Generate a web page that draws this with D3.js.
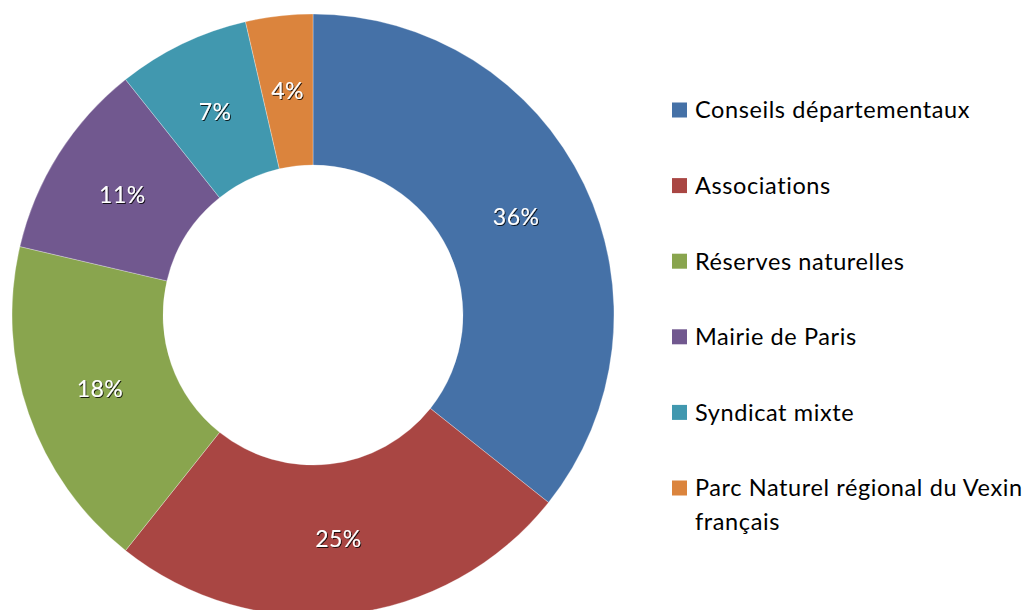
<!DOCTYPE html>
<html>
<head>
<meta charset="utf-8">
<script src="https://cdn.jsdelivr.net/npm/d3@7"></script>
<style>
  body { margin: 0; background: #fff; }
  text { font-family: Lato, "Open Sans", sans-serif; }
</style>
</head>
<body>
<div id="chart"></div>
<script>
const categories = [
    "Conseils départementaux",
    "Associations",
    "Réserves naturelles",
    "Mairie de Paris",
    "Syndicat mixte",
    "Parc Naturel régional du Vexin français"
];
const values = [35.7, 25.0, 17.95, 10.65, 7.1, 3.6];
const colors = ["#4571a7", "#a94643", "#89a54e", "#71588f", "#4198af", "#db843d"];
// legend lines (long label wraps in two)
const legendLines = [
    ["Conseils départementaux"],
    ["Associations"],
    ["Réserves naturelles"],
    ["Mairie de Paris"],
    ["Syndicat mixte"],
    ["Parc Naturel régional du Vexin", "français"]
];

const width = 1031, height = 610;
const cx = 313, cy = 315;
const outerR = 301, innerR = 150;

const svg = d3.select("#chart")
    .append("svg")
    .attr("width", width)
    .attr("height", height);

const defs = svg.append("defs");
defs.append("filter")
    .attr("id", "shadow")
    .attr("x", "-20%").attr("y", "-20%")
    .attr("width", "140%").attr("height", "140%")
    .append("feDropShadow")
    .attr("dx", 1).attr("dy", 1)
    .attr("stdDeviation", 0.6)
    .attr("flood-color", "#000")
    .attr("flood-opacity", 0.8);

const total = d3.sum(values);
const data = categories.map((c, i) => ({ name: c, value: values[i], color: colors[i] }));

const pie = d3.pie()
    .value(d => d.value)
    .sort(null);

const arc = d3.arc()
    .innerRadius(innerR)
    .outerRadius(outerR);

const g = svg.append("g")
    .attr("transform", `translate(${cx},${cy})`);

const arcs = pie(data);

g.selectAll("path")
    .data(arcs)
    .enter()
    .append("path")
    .attr("d", arc)
    .attr("fill", d => d.data.color)
    .attr("stroke", "#fff")
    .attr("stroke-width", 0.3);

g.selectAll("text.pct")
    .data(arcs)
    .enter()
    .append("text")
    .attr("class", "pct")
    .attr("transform", d => `translate(${arc.centroid(d)})`)
    .attr("text-anchor", "middle")
    .attr("dy", "0.36em")
    .attr("font-size", 23)
    .attr("letter-spacing", 0.5)
    .attr("fill", "#fff")
    .attr("filter", "url(#shadow)")
    .text(d => Math.round(d.data.value / total * 100) + "%");

// legend
const legendY = d3.scalePoint()
    .domain(categories)
    .range([110, 488]);

const legend = svg.append("g");

const items = legend.selectAll("g")
    .data(data)
    .enter()
    .append("g")
    .attr("transform", d => `translate(672,${legendY(d.name)})`);

items.append("rect")
    .attr("x", 0)
    .attr("y", -7.5)
    .attr("width", 15)
    .attr("height", 15)
    .attr("fill", d => d.color);

items.each(function (d, i) {
    const t = d3.select(this).append("text")
        .attr("x", 23)
        .attr("y", 0)
        .attr("font-size", 23.5)
        .attr("letter-spacing", 0.6)
        .attr("fill", "#000");
    legendLines[i].forEach((line, j) => {
        t.append("tspan")
            .attr("x", 23)
            .attr("dy", j === 0 ? "0.36em" : 34)
            .text(line);
    });
});
</script>
</body>
</html>
